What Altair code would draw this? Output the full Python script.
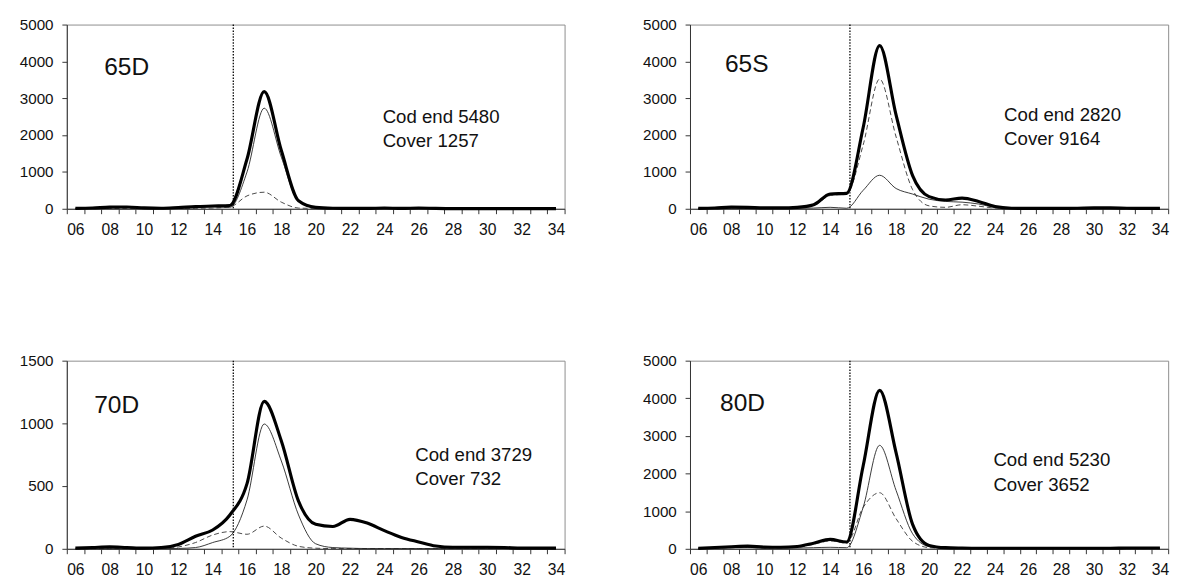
import altair as alt
import pandas as pd

# ---------------- data ----------------
SIZES = list(range(6, 35))  # length classes 06 .. 34

# 65D
TOTAL_65D = [10, 20, 45, 50, 25, 15, 35, 60, 75, 90, 1350, 3180, 1580, 220, 40,
             15, 10, 10, 20, 10, 20, 10, 5, 5, 5, 5, 5, 5, 5]
CODEND_65D = [5, 15, 35, 40, 20, 10, 25, 45, 55, 40, 1000, 2730, 1400, 200, 30,
              10, 5, 5, 10, 5, 10, 5, 5, 5, 5, 5, 5, 5, 5]
COVER_65D = [5, 5, 10, 10, 5, 5, 10, 15, 20, 50, 350, 450, 180, 20, 10,
             5, 5, 5, 5, 5, 5, 5, 5, 5, 5, 5, 5, 5, 5]

# 65S
TOTAL_65S = [10, 20, 45, 40, 25, 25, 40, 110, 400, 420, 2200, 4430, 2540, 900, 330,
             240, 290, 200, 60, 15, 10, 10, 10, 15, 25, 25, 15, 10, 10]
CODEND_65S = [5, 10, 20, 20, 10, 10, 15, 20, 40, 15, 500, 910, 550, 400, 260,
              200, 180, 130, 40, 10, 5, 5, 5, 10, 15, 15, 10, 5, 5]
COVER_65S = [5, 10, 25, 20, 15, 15, 25, 90, 360, 405, 1730, 3520, 1950, 520, 80,
             40, 110, 70, 20, 5, 5, 5, 5, 5, 10, 10, 5, 5, 5]

# 70D
TOTAL_70D = [5, 10, 15, 10, 5, 10, 35, 100, 150, 270, 520, 1175, 860, 380, 195,
             178, 235, 205, 145, 91, 55, 22, 12, 12, 12, 10, 5, 5, 5]
CODEND_70D = [0, 0, 0, 0, 0, 2, 3, 10, 50, 100, 390, 995, 700, 270, 40,
              10, 5, 2, 2, 2, 2, 2, 2, 2, 2, 2, 2, 2, 2]
COVER_70D = [0, 0, 0, 0, 0, 2, 15, 50, 110, 137, 116, 181, 85, 20, 5,
             2, 2, 2, 2, 2, 2, 2, 2, 2, 2, 2, 2, 2, 2]

# 80D
TOTAL_80D = [10, 35, 55, 70, 45, 40, 60, 150, 250, 180, 2200, 4210, 2550, 650, 90,
             30, 20, 15, 15, 15, 15, 15, 15, 15, 15, 15, 20, 20, 20]
CODEND_80D = [5, 15, 25, 30, 20, 15, 20, 30, 40, 30, 1100, 2750, 1550, 400, 60,
              20, 10, 10, 10, 10, 10, 10, 10, 10, 10, 10, 10, 10, 10]
COVER_80D = [5, 20, 30, 40, 25, 25, 40, 120, 210, 150, 1100, 1490, 800, 200, 30,
             10, 5, 5, 5, 5, 5, 5, 5, 5, 5, 5, 5, 5, 5]

PANEL_NAMES = ["65D", "65S", "70D", "80D"]
NOTE_LINE1 = ["Cod end 5480", "Cod end 2820", "Cod end 3729", "Cod end 5230"]
NOTE_LINE2 = ["Cover 1257", "Cover 9164", "Cover 732", "Cover 3652"]
Y_MAX = [5000, 5000, 1500, 5000]
Y_STEP = [1000, 1000, 500, 1000]
CUTOFF = 15.2  # dotted vertical reference line

# annotation anchors in data units (size, count)
NAME_POS = [(7.68, 3625), (7.62, 3700), (7.1, 1081), (7.32, 3668)]
NOTE_POS = [(23.9, 2340, 1666), (24.55, 2387, 1729), (25.8, 700, 512), (23.9, 2195, 1537)]

SERIES = {
    "65D": (TOTAL_65D, CODEND_65D, COVER_65D),
    "65S": (TOTAL_65S, CODEND_65S, COVER_65S),
    "70D": (TOTAL_70D, CODEND_70D, COVER_70D),
    "80D": (TOTAL_80D, CODEND_80D, COVER_80D),
}

FONT = "Liberation Sans"
TICK_VALUES_X = [5.5 + k for k in range(30)]


def panel(i, w, h):
    name = PANEL_NAMES[i]
    total, codend, cover = SERIES[name]
    df = pd.DataFrame({
        "size": SIZES * 3,
        "value": total + codend + cover,
        "series": ["Total"] * len(SIZES) + ["Cod end"] * len(SIZES) + ["Cover"] * len(SIZES),
    })
    cat = w / 29.0
    xaxis = alt.Axis(
        values=TICK_VALUES_X,
        labelExpr="((datum.value + 0.5) % 2 == 0 && datum.value < 34) ? (((datum.value + 0.5) < 10 ? '0' : '') + (datum.value + 0.5)) : ''",
        labelOffset=cat / 2,
        tickSize=5,
        labelPadding=8,
        labelFontSize=16,
        labelFlush=False,
        labelOverlap=False,
        grid=False,
        title=None,
        domainColor="#333",
        tickColor="#333",
        labelColor="#111",
    )
    yaxis = alt.Axis(
        values=list(range(0, Y_MAX[i] + 1, Y_STEP[i])),
        format="d",
        tickSize=5,
        labelPadding=9,
        labelFontSize=15.5,
        labelOverlap=False,
        labelFlush=False,
        minExtent=49,
        maxExtent=49,
        grid=False,
        title=None,
        domainColor="#333",
        tickColor="#333",
        labelColor="#111",
    )
    x = alt.X("size:Q", scale=alt.Scale(domain=[5.5, 34.5], nice=False, zero=False), axis=xaxis)
    y = alt.Y("value:Q", scale=alt.Scale(domain=[0, Y_MAX[i]], nice=False), axis=yaxis)

    base = alt.Chart(df)
    thick = base.transform_filter(alt.datum.series == "Total").mark_line(
        color="black", strokeWidth=3.2, interpolate="monotone").encode(x=x, y=y)
    thin = base.transform_filter(alt.datum.series == "Cod end").mark_line(
        color="#222", strokeWidth=0.9, interpolate="monotone").encode(x=x, y=y)
    dashed = base.transform_filter(alt.datum.series == "Cover").mark_line(
        color="#333", strokeWidth=0.9, strokeDash=[5, 3], interpolate="monotone").encode(x=x, y=y)

    rule = alt.Chart(pd.DataFrame({"size": [CUTOFF]})).mark_rule(
        color="black", strokeWidth=1.3, strokeDash=[1.5, 1.5]).encode(x=x)

    nx, ny = NAME_POS[i]
    name_df = pd.DataFrame({"size": [nx], "value": [ny], "text": [name]})
    name_txt = alt.Chart(name_df).mark_text(
        align="left", baseline="alphabetic", fontSize=25, color="#111").encode(
        x=x, y=y, text="text:N")

    tx, ty1, ty2 = NOTE_POS[i]
    note_df = pd.DataFrame({"size": [tx, tx], "value": [ty1, ty2],
                            "text": [NOTE_LINE1[i], NOTE_LINE2[i]]})
    note_txt = alt.Chart(note_df).mark_text(
        align="left", baseline="alphabetic", fontSize=19, color="#111").encode(
        x=x, y=y, text="text:N")

    return alt.layer(dashed, thin, thick, rule, name_txt, note_txt).properties(width=w, height=h)


top = alt.hconcat(panel(0, 508, 188), panel(1, 488, 188), spacing=68)
bottom = alt.hconcat(panel(2, 508, 192), panel(3, 488, 192), spacing=68)

chart = alt.vconcat(top, bottom, spacing=117).properties(
    padding={"left": 10, "top": 3, "right": 0, "bottom": 0},
    background="white",
).configure(font=FONT).configure_view(stroke="#8c8c8c", strokeWidth=1)

chart.save("out.html", embed_options={"renderer": "svg", "actions": False})
